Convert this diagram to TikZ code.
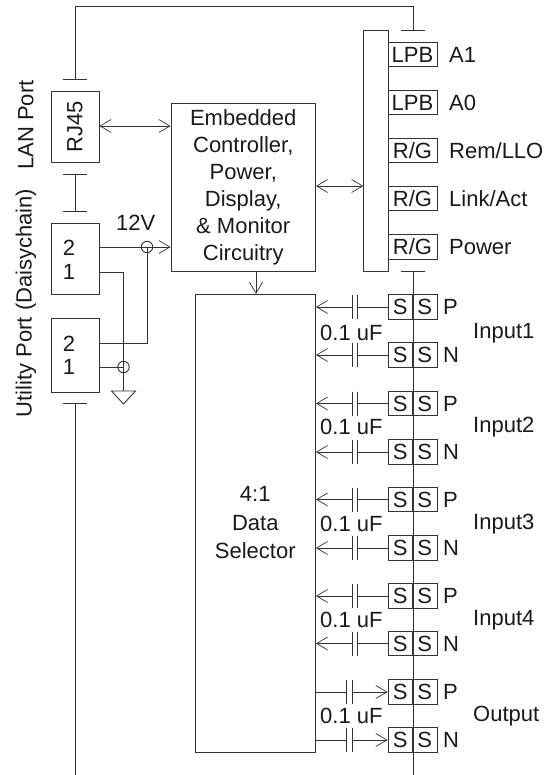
\documentclass[tikz,border=0pt]{standalone}
\usepackage{fontspec}
\setmainfont{Liberation Sans}
\usetikzlibrary{arrows.meta,calc}
\definecolor{ink}{HTML}{333333}
\definecolor{txt}{HTML}{1A1A1A}
\tikzset{
  wire/.style={draw=ink,line width=0.9pt},
  openend/.style={-{Straight Barb[length=11pt,width=13pt,line width=0.7pt]}},
  openboth/.style={{Straight Barb[length=11pt,width=13pt,line width=0.7pt]}-{Straight Barb[length=11pt,width=13pt,line width=0.7pt]}},
  blockbox/.style={draw=ink,line width=0.9pt,rectangle,inner sep=0pt,align=center,text=txt,font=\fontsize{22}{27}\selectfont},
  ledbox/.style={blockbox,minimum width=49pt,minimum height=24.5pt},
  halfbox/.style={blockbox,minimum width=24.5pt,minimum height=24.5pt},
  lab/.style={text=txt,inner sep=0pt,anchor=west,font=\fontsize{22}{24}\selectfont},
  capt/.style={text=txt,inner sep=0pt,font=\fontsize{22}{24}\selectfont},
  cross/.style={circle,draw=ink,line width=0.9pt,minimum size=11.5pt,inner sep=0pt},
  gnd/.style={draw=ink,line width=0.9pt},
}
\begin{document}
\begin{tikzpicture}[x=1pt,y=-1pt]
\useasboundingbox (0,0) rectangle (547,775);
\fill[white] (0,0) rectangle (547,775);
% main blocks
\node[blockbox,minimum width=48pt,minimum height=71pt] (rj) at (75,126.5) {\rotatebox{90}{RJ45}};
\node[blockbox,minimum width=48pt,minimum height=71pt] (ua) at (75,258.5) {};
\node[blockbox,minimum width=48pt,minimum height=74pt] (ub) at (75,355) {};
\node[capt] (ua2) at (69,248) {2};
\node[capt] (ua1) at (69,272) {1};
\node[capt] (ub2) at (69,344) {2};
\node[capt] (ub1) at (69,367) {1};
\node[blockbox,minimum width=144.5pt,minimum height=168pt] (ctl) at (243.25,187) {Embedded\\Controller,\\Power,\\Display,\\\& Monitor\\Circuitry};
\node[blockbox,minimum width=120.5pt,minimum height=458pt,font=\fontsize{22}{28.5}\selectfont] (sel) at (255.25,523) {4:1\\Data\\Selector};
\node[blockbox,minimum width=24.5pt,minimum height=241pt] (bar) at (376,150.5) {};
% side labels
\node[text=txt,rotate=90,inner sep=0pt,font=\fontsize{22}{24}\selectfont] (lan) at (26,125) {LAN Port};
\node[text=txt,rotate=90,inner sep=0pt,font=\fontsize{22}{24}\selectfont] (util) at (26,303) {Utility Port (Daisychain)};
\node[capt,anchor=west] (v12) at (116,223) {12V};
% T stubs
\coordinate (tl) at (75,79); \coordinate (tr) at (413,30);
\coordinate (bl1) at (75,174); \coordinate (bl2) at (75,211);
\coordinate (bl3) at (75,403); \coordinate (blend) at (75,775);
\coordinate (br) at (413,271); \coordinate (brend) at (413,775);
\foreach \c in {tl,tr,bl1,bl2,bl3,br} \draw[wire] ($(\c)+(-12,0)$) -- ($(\c)+(12,0)$);
\draw[wire] (tl) -- (75,6) -- (413,6) -- (tr);
\draw[wire] (bl1) -- (bl2);
\draw[wire] (bl3) -- (blend);
% LEDs
\foreach \n/\y/\t/\l in {a/54.5/LPB/A1,b/102.5/LPB/A0,c/150.5/R\slash G/Rem\slash LLO,d/198.5/R\slash G/Link\slash Act,e/247/R\slash G/Power}{
  \node[ledbox] (led\n) at (412.5,\y) {\t};
  \node[lab] (ll\n) at (449,\y) {\l};
}
% S pairs
\draw[wire] (br) -- (brend);
\foreach \r/\y/\s in {r1/307/P,r2/355/N,r3/403.5/P,r4/452/N,r5/499.5/P,r6/548/N,r7/596/P,r8/643.5/N,r9/692/P,r10/740/N}{
  \node[halfbox] (\r a) at (400.25,\y) {S};
  \node[halfbox] (\r b) at (424.75,\y) {S};
  \node[lab] (\r s) at (443,\y) {\s};
}
% capacitors, inputs
\foreach \r/\y in {r1/307,r2/355,r3/403.5,r4/452,r5/499.5,r6/548,r7/596,r8/643.5}{
  \coordinate (\r p) at (352,\y); \coordinate (\r q) at (357.5,\y);
  \draw[wire] ($(\r p)+(0,-12)$) -- ($(\r p)+(0,12)$);
  \draw[wire] ($(\r q)+(0,-12)$) -- ($(\r q)+(0,12)$);
  \draw[wire] (\r a.west) -- (\r q);
  \draw[wire,openend] (\r p) -- (sel.east |- \r p);
}
% capacitors, output
\foreach \r/\y in {r9/692,r10/740}{
  \coordinate (\r p) at (346,\y); \coordinate (\r q) at (352,\y);
  \draw[wire] ($(\r p)+(0,-12)$) -- ($(\r p)+(0,12)$);
  \draw[wire] ($(\r q)+(0,-12)$) -- ($(\r q)+(0,12)$);
  \draw[wire] (sel.east |- \r p) -- (\r p);
  \draw[wire,openend] (\r q) -- (\r a.west);
}
\foreach \n/\y in {c1/333,c2/427,c3/524,c4/620,c5/716}{
  \node[capt,anchor=west] (\n) at (320,\y) {0.1 uF};
}
\foreach \n/\y/\t in {i1/333/Input1,i2/427/Input2,i3/524/Input3,i4/620/Input4}{
  \node[lab] (\n) at (473,\y) {\t};
}
\node[lab] (io) at (473,716) {Output};
% links
\draw[wire,openboth] (rj.east |- 0,126) -- (ctl.west |- 0,126);
\draw[wire,openboth] (ctl.east |- 0,186) -- (bar.west |- 0,186);
\draw[wire,openend] (256,271) -- (256,294);
% power wiring
\node[cross] (n12) at (147,247) {};
\node[cross] (ngnd) at (123.5,367) {};
\coordinate (gtop) at (123.5,391);
\draw[wire,openend] (ua.east |- n12) -- (ctl.west |- n12);
\draw[wire] (ub.east |- 0,343) -- (147,343) -- (n12.center);
\draw[wire] (ua.east |- 0,272) -- (123.5,272) -- (gtop);
\draw[wire] (ub.east |- ngnd) -- (ngnd.center);
\draw[gnd] (111.5,391) -- (135.5,391) -- (123.5,404) -- cycle;
\end{tikzpicture}
\end{document}
